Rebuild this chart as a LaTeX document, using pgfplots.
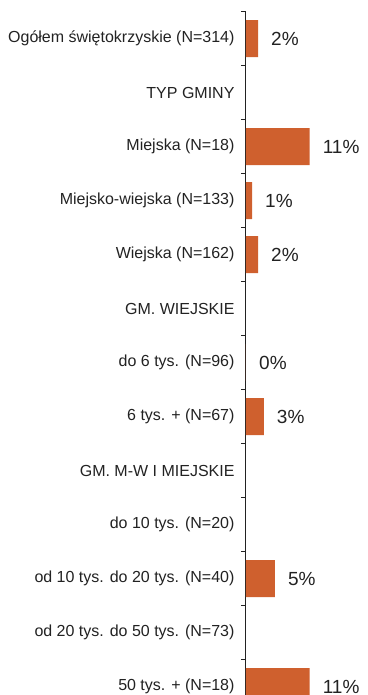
\documentclass[border=0pt]{standalone}
\usepackage{fontspec}
\setmainfont{Liberation Sans}
\usepackage{pgfplots}
\pgfplotsset{compat=1.18}
\definecolor{barc}{RGB}{207,96,46}
\definecolor{txt}{RGB}{34,34,34}
\begin{document}
\begin{tikzpicture}
\begin{axis}[
  scale only axis,
  width=114.6bp, height=702bp,
  xmin=0, xmax=20,
  ymin=0.5, ymax=13.5,
  y dir=reverse,
  axis x line=none,
  axis y line*=left,
  axis line style={line width=1bp, color=txt},
  ytick={1,...,13},
  yticklabels={Ogółem świętokrzyskie (N=314),TYP GMINY,Miejska (N=18),Miejsko-wiejska (N=133),Wiejska (N=162),GM. WIEJSKIE,do 6 tys. (N=96),6 tys. + (N=67),GM. M-W I MIEJSKIE,do 10 tys. (N=20),od 10 tys. do 20 tys. (N=40),od 20 tys. do 50 tys. (N=73),50 tys. + (N=18)},
  major tick length=0pt,
  minor ytick={0.5,1.5,...,13.5},
  minor tick length=5bp,
  tick align=outside,
  tick style={line width=1bp,color=txt},
  yticklabel style={font=\fontsize{16bp}{19bp}\selectfont, text=txt, xshift=-8bp},
  xbar, bar width=37bp,
  nodes near coords={\pgfmathprintnumber[fixed,precision=0,assume math mode=true]{\pgfplotspointmeta}\%},
  every node near coord/.append style={font=\fontsize{19bp}{22bp}\selectfont, text=txt, anchor=west, inner sep=0pt, xshift=13bp},
  clip=false,
]
\addplot[fill=barc, draw=none] coordinates {(2.1,1) (11.1,3) (1.05,4) (2.1,5) (0,7) (3.1,8) (5.05,11) (11.1,13)};
\end{axis}
\pgfresetboundingbox
\path (-246bp,18.5bp) rectangle (122bp,713.5bp);
\end{tikzpicture}
\end{document}
